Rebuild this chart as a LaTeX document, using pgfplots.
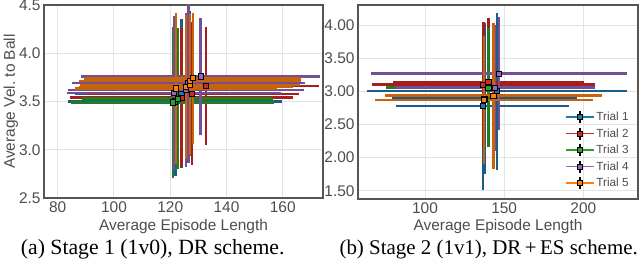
\documentclass[border=0pt]{standalone}
\usepackage{fontspec}
\setmainfont{Liberation Serif}
\newfontfamily\arialf{Liberation Sans}
\usepackage{pgfplots}
\pgfplotsset{compat=1.18}
\definecolor{tblue}{HTML}{1F77B4}
\definecolor{torange}{HTML}{FF7F0E}
\definecolor{tgreen}{HTML}{2CA02C}
\definecolor{tred}{HTML}{D62728}
\definecolor{tpurple}{HTML}{9467BD}
\definecolor{txt}{HTML}{4D4D4D}
\definecolor{gridc}{HTML}{E3E3E3}
\definecolor{framec}{HTML}{555555}
\pgfplotsset{
 trial/.style={
   only marks, mark=square*,
   mark size=2.6bp,
   mark options={fill=#1, draw=black, line width=0.9bp, solid},
   error bars/.cd,
     x dir=both, x explicit, y dir=both, y explicit,
     error mark=none,
     error bar style={draw=#1!78!black, line width=2.4bp, solid},
   /pgfplots/.cd,
   legend image code/.code={
     \draw[draw=#1, line width=1.3bp] (-4bp,0bp) -- (24bp,0bp);
     \draw[draw=black, line width=1.6bp] (10bp,-6bp) -- (10bp,6bp);
     \draw[draw=black, fill=#1, line width=0.8bp] (7.5bp,-2.5bp) rectangle (12.5bp,2.5bp);
   },
 },
 common/.style={
   scale only axis,
   axis line style={draw=framec, line width=1.1bp},
   grid=major, major grid style={draw=gridc, line width=1bp},
   major tick length=0pt,
   tick style={draw=none},
   /pgf/number format/assume math mode=true,
   tick label style={font=\arialf\fontsize{15.5}{18}\selectfont, text=txt},
   label style={font=\arialf\fontsize{15.5}{18}\selectfont, text=txt},
 },
}
\begin{document}
\begin{tikzpicture}[x=1bp,y=1bp]
\useasboundingbox (0,0) rectangle (640,265);
% ---------------- left panel ----------------
\begin{axis}[common, at={(44bp,67bp)}, anchor=south west,
  width=279bp, height=193bp,
  xmin=75.13, xmax=174.3, ymin=2.5, ymax=4.5,
  xtick={80,100,120,140,160}, ytick={2.5,3.0,3.5,4.0,4.5},
  yticklabel style={/pgf/number format/.cd, fixed, fixed zerofill, precision=1},
  xlabel={Average Episode Length}, ylabel={Average Vel.\ to Ball},
  xlabel style={at={(axis description cs:0.5,-0.166)}, anchor=base},
  ylabel style={at={(axis description cs:-0.104,0.5)}, anchor=base},
]
\addplot[trial=tblue] table[x=x, y=y, x error=ex, y error=ey] {
x y ex ey
121.8 3.50 38 0.77
124.0 3.58 38 0.77
126.8 3.69 38 0.75
};
\addplot[trial=tred] table[x=x, y=y, x error=ex, y error=ey] {
x y ex ey
124.0 3.54 39.6 0.72
127.8 3.58 38 0.74
132.7 3.66 40 0.61
};
\addplot[trial=tgreen] table[x=x, y=y, x error=ex, y error=ey] {
x y ex ey
120.9 3.49 36 0.78
122.6 3.53 34 0.73
};
\addplot[trial=tpurple] table[x=x, y=y, x error=ex, y error=ey] {
x y ex ey
121.3 3.59 38 0.80
125.7 3.62 42 0.80
126.5 3.69 41.5 0.83
130.8 3.76 42.5 0.61
};
\addplot[trial=torange] table[x=x, y=y, x error=ex, y error=ey] {
x y ex ey
122.1 3.635 36 0.78
125.7 3.65 38 0.75
127.1 3.67 39 0.72
127.1 3.71 39.4 0.70
128.0 3.74 38.5 0.68
};
\end{axis}
% ---------------- right panel ----------------
\begin{axis}[common, at={(358bp,66bp)}, anchor=south west,
  width=280bp, height=194bp,
  xmin=57.7, xmax=234.5, ymin=1.375, ymax=4.302,
  xtick={100,150,200}, ytick={1.5,2.0,2.5,3.0,3.5,4.0},
  yticklabel style={/pgf/number format/.cd, fixed, fixed zerofill, precision=2},
  xlabel={Average Episode Length},
  xlabel style={at={(axis description cs:0.5,-0.16)}, anchor=base},
  legend style={draw=none, fill=none, at={(axis description cs:0.985,0.035)}, anchor=south east,
    font=\arialf\fontsize{11.8}{13}\selectfont, text=txt, row sep=2.5bp},
  legend cell align=left,
]
\addplot[trial=tblue] table[x=x, y=y, x error=ex, y error=ey] {
x y ex ey
136.5 2.775 54.6 1.27
137.5 2.89 58.5 1.14
145.5 3.00 82 1.18
};
\addlegendentry{Trial 1}
\addplot[trial=tred] table[x=x, y=y, x error=ex, y error=ey] {
x y ex ey
136.9 3.10 70.6 0.95
140.1 3.136 60.5 0.97
};
\addlegendentry{Trial 2}
\addplot[trial=tgreen] table[x=x, y=y, x error=ex, y error=ey] {
x y ex ey
140.1 3.056 64.5 0.90
};
\addlegendentry{Trial 3}
\addplot[trial=tpurple] table[x=x, y=y, x error=ex, y error=ey] {
x y ex ey
144.1 3.056 63 0.95
146.8 3.267 81 0.85
};
\addlegendentry{Trial 4}
\addplot[trial=torange] table[x=x, y=y, x error=ex, y error=ey] {
x y ex ey
137.3 2.87 69 0.97
143.2 2.935 68.7 1.10
};
\addlegendentry{Trial 5}
\end{axis}
\node[anchor=base west, inner sep=0pt, font=\fontsize{21.8}{24}\selectfont] at (20.7,11) {(a) Stage 1 (1v0), DR scheme.};
\node[anchor=base east, inner sep=0pt, font=\fontsize{21}{24}\selectfont] at (638,11) {(b) Stage 2 (1v1), DR\,+\,ES scheme.};
\end{tikzpicture}
\end{document}
